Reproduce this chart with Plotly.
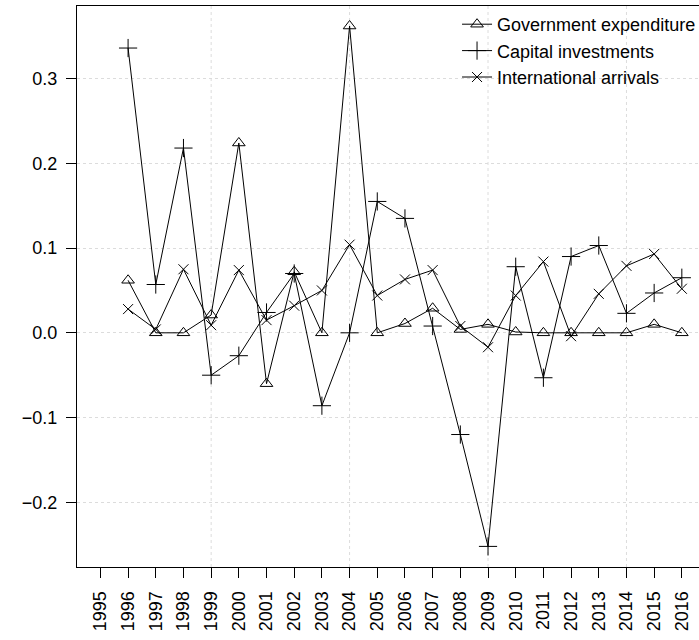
import plotly.graph_objects as go

years = list(range(1995, 2017))
series_years = list(range(1996, 2017))

government_expenditure = [0.062, 0.0, 0.0, 0.021, 0.224, -0.060, 0.072, 0.0, 0.362, 0.0,
                          0.011, 0.029, 0.004, 0.010, 0.001, 0.0, 0.0, 0.0, 0.0, 0.010, 0.0]
capital_investments = [0.336, 0.057, 0.218, -0.050, -0.027, 0.024, 0.070, -0.086, 0.0, 0.155,
                       0.135, 0.008, -0.120, -0.252, 0.078, -0.053, 0.090, 0.103, 0.023, 0.047, 0.065]
international_arrivals = [0.028, 0.004, 0.075, 0.009, 0.074, 0.015, 0.032, 0.050, 0.104, 0.044,
                          0.063, 0.074, 0.008, -0.017, 0.044, 0.084, -0.004, 0.046, 0.079, 0.093, 0.052]

y_ticks = [-0.2, -0.1, 0.0, 0.1, 0.2, 0.3]
y_tick_text = ["\u22120.2", "\u22120.1", "0.0", "0.1", "0.2", "0.3"]
grid_years = [1999, 2004, 2009, 2014]

FONT = "Liberation Sans, Arial, Helvetica, sans-serif"
GRID = "#dcdcdc"

fig = go.Figure()

series = [
    ("Government expenditure", government_expenditure, "triangle-up-open", 11),
    ("Capital investments", capital_investments, "cross-thin-open", 13),
    ("International arrivals", international_arrivals, "x-thin-open", 10),
]
for name, vals, sym, size in series:
    fig.add_trace(go.Scatter(
        x=series_years, y=vals, name=name, mode="lines+markers",
        line=dict(color="black", width=1),
        marker=dict(symbol=sym, size=size, color="black",
                    line=dict(color="black", width=1)),
    ))

# dotted vertical guides every five years
for gy in grid_years:
    fig.add_vline(x=gy, line=dict(color=GRID, width=1, dash="dot"), layer="below")

fig.update_layout(
    width=699, height=640,
    margin=dict(l=77, r=0, t=6, b=73, autoexpand=False),
    paper_bgcolor="white", plot_bgcolor="white",
    font=dict(family=FONT, size=18, color="black"),
    showlegend=True,
    legend=dict(x=0.611, y=1.0, xanchor="left", yanchor="top",
                bgcolor="rgba(0,0,0,0)", borderwidth=0,
                font=dict(size=18), tracegroupgap=0, itemwidth=30),
    xaxis=dict(
        range=[1994.155, 2016.62], tickmode="array", tickvals=years,
        ticktext=[str(y) for y in years], tickangle=-90,
        ticks="outside", ticklen=10, tickcolor="black", tickwidth=1,
        showline=True, linecolor="black", linewidth=1, mirror=True,
        showgrid=False, zeroline=False, ticklabelstandoff=6,
        tickfont=dict(size=18), automargin=False,
    ),
    yaxis=dict(
        range=[-0.2763, 0.3856], tickmode="array", tickvals=y_ticks,
        ticktext=y_tick_text,
        ticks="outside", ticklen=10, tickcolor="black", tickwidth=1,
        showline=True, linecolor="black", linewidth=1, mirror=False,
        showgrid=True, gridcolor=GRID, griddash="dot", gridwidth=1,
        zeroline=False, ticklabelstandoff=5,
        tickfont=dict(size=18), automargin=False,
    ),
)

fig.write_html("out.html")
